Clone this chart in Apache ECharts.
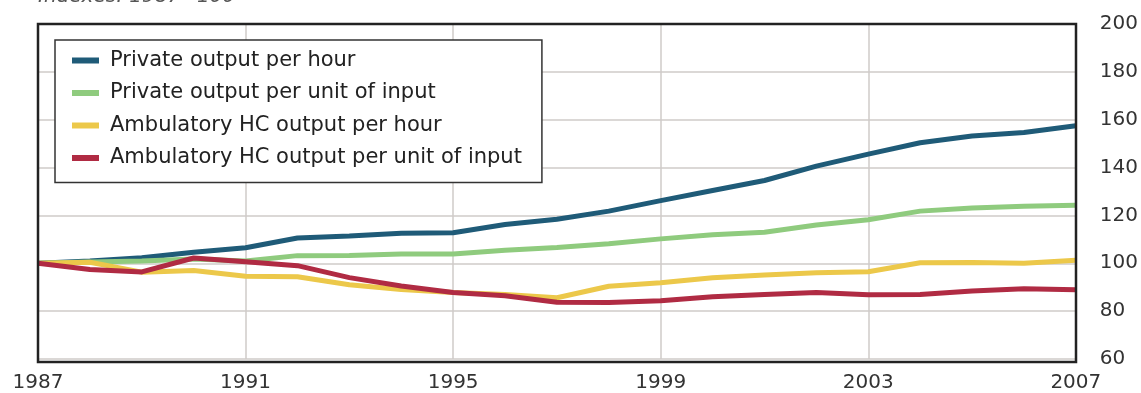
<!DOCTYPE html>
<html>
<head>
<meta charset="utf-8">
<script src="https://cdn.jsdelivr.net/npm/echarts@6/dist/echarts.min.js"></script>
<style>
html,body{margin:0;padding:0;background:#fff;}
#chart{width:1141px;height:393px;}
</style>
</head>
<body>
<div id="chart"></div>
<script>
var years = ['1987','1988','1989','1990','1991','1992','1993','1994','1995','1996','1997','1998','1999','2000','2001','2002','2003','2004','2005','2006','2007'];
var privateOutputPerHour = [100, 101, 102.3, 104.6, 106.5, 110.6, 111.4, 112.6, 112.8, 116.2, 118.4, 121.8, 126.2, 130.4, 134.6, 140.6, 145.6, 150.4, 153.2, 154.7, 157.5];
var privateOutputPerUnitInput = [100, 100.5, 101, 101.8, 101, 103.2, 103.3, 103.9, 103.9, 105.4, 106.6, 108.2, 110.2, 111.9, 113, 116, 118.2, 121.8, 123.1, 123.8, 124.3];
var ambulatoryOutputPerHour = [100, 100.4, 96.3, 97, 94.6, 94.4, 91, 89, 87.8, 87, 85.6, 90.4, 91.9, 94, 95.1, 96, 96.5, 100.2, 100.3, 100, 101.3];
var ambulatoryOutputPerUnitInput = [100, 97.4, 96.4, 102.2, 100.6, 99, 94, 90.5, 87.8, 86.4, 83.7, 83.6, 84.3, 86, 87, 87.8, 86.8, 87, 88.4, 89.4, 88.9];
var yTicks = [60, 80, 100, 120, 140, 160, 180, 200];
var seriesNames = ['Private output per hour', 'Private output per unit of input', 'Ambulatory HC output per hour', 'Ambulatory HC output per unit of input'];
var seriesColors = ['#1f5b78', '#8fcb7e', '#ecc84a', '#b02b43'];
var seriesData = [privateOutputPerHour, privateOutputPerUnitInput, ambulatoryOutputPerHour, ambulatoryOutputPerUnitInput];

var chart = echarts.init(document.getElementById('chart'));
var FONT = 'DejaVu Sans';
var GRID = {left: 38, right: 65, top: 24, bottom: 31};
var option = {
  animation: false,
  grid: {left: GRID.left, right: GRID.right, top: GRID.top, bottom: GRID.bottom},
  graphic: [{
    type: 'text', left: 38, top: -13,
    style: {text: 'Indexes: 1987=100', font: 'italic 20px "DejaVu Sans"', fill: '#555'}
  }, {
    type: 'rect', z: 100, silent: true,
    shape: {x: GRID.left, y: GRID.top, width: 1141 - GRID.left - GRID.right, height: 393 - GRID.top - GRID.bottom},
    style: {fill: 'none', stroke: '#222', lineWidth: 2.5}
  }],
  legend: {
    orient: 'vertical', left: 55, top: 40, z: 120,
    data: seriesNames,
    icon: 'rect', itemWidth: 27, itemHeight: 6, itemGap: 11.5,
    padding: [10, 20, 14, 17],
    backgroundColor: '#fff', borderColor: '#333', borderWidth: 1.5,
    textStyle: {fontFamily: FONT, fontSize: 21, color: '#222', padding: [0, 0, 0, 6]}
  },
  xAxis: {
    type: 'category', data: years, boundaryGap: false,
    axisLine: {show: false}, axisTick: {show: false},
    axisLabel: {interval: 3, fontFamily: FONT, fontSize: 20, color: '#333', margin: 14},
    splitLine: {show: true, interval: 3, lineStyle: {color: '#cfcbc8', width: 1.5}}
  },
  yAxis: {
    type: 'value', position: 'right', min: yTicks[0], max: yTicks[yTicks.length - 1], interval: 20,
    axisLine: {show: false}, axisTick: {show: false},
    axisLabel: {fontFamily: FONT, fontSize: 20, color: '#333', margin: 24, padding: [0, 0, 6, 0]},
    splitLine: {show: true, lineStyle: {color: '#cfcbc8', width: 1.5}}
  },
  series: seriesNames.map(function (n, i) {
    return {
      name: n, type: 'line', data: seriesData[i], showSymbol: false, symbol: 'none',
      lineStyle: {color: seriesColors[i], width: 5}, itemStyle: {color: seriesColors[i]}
    };
  })
};
chart.setOption(option);
</script>
</body>
</html>
